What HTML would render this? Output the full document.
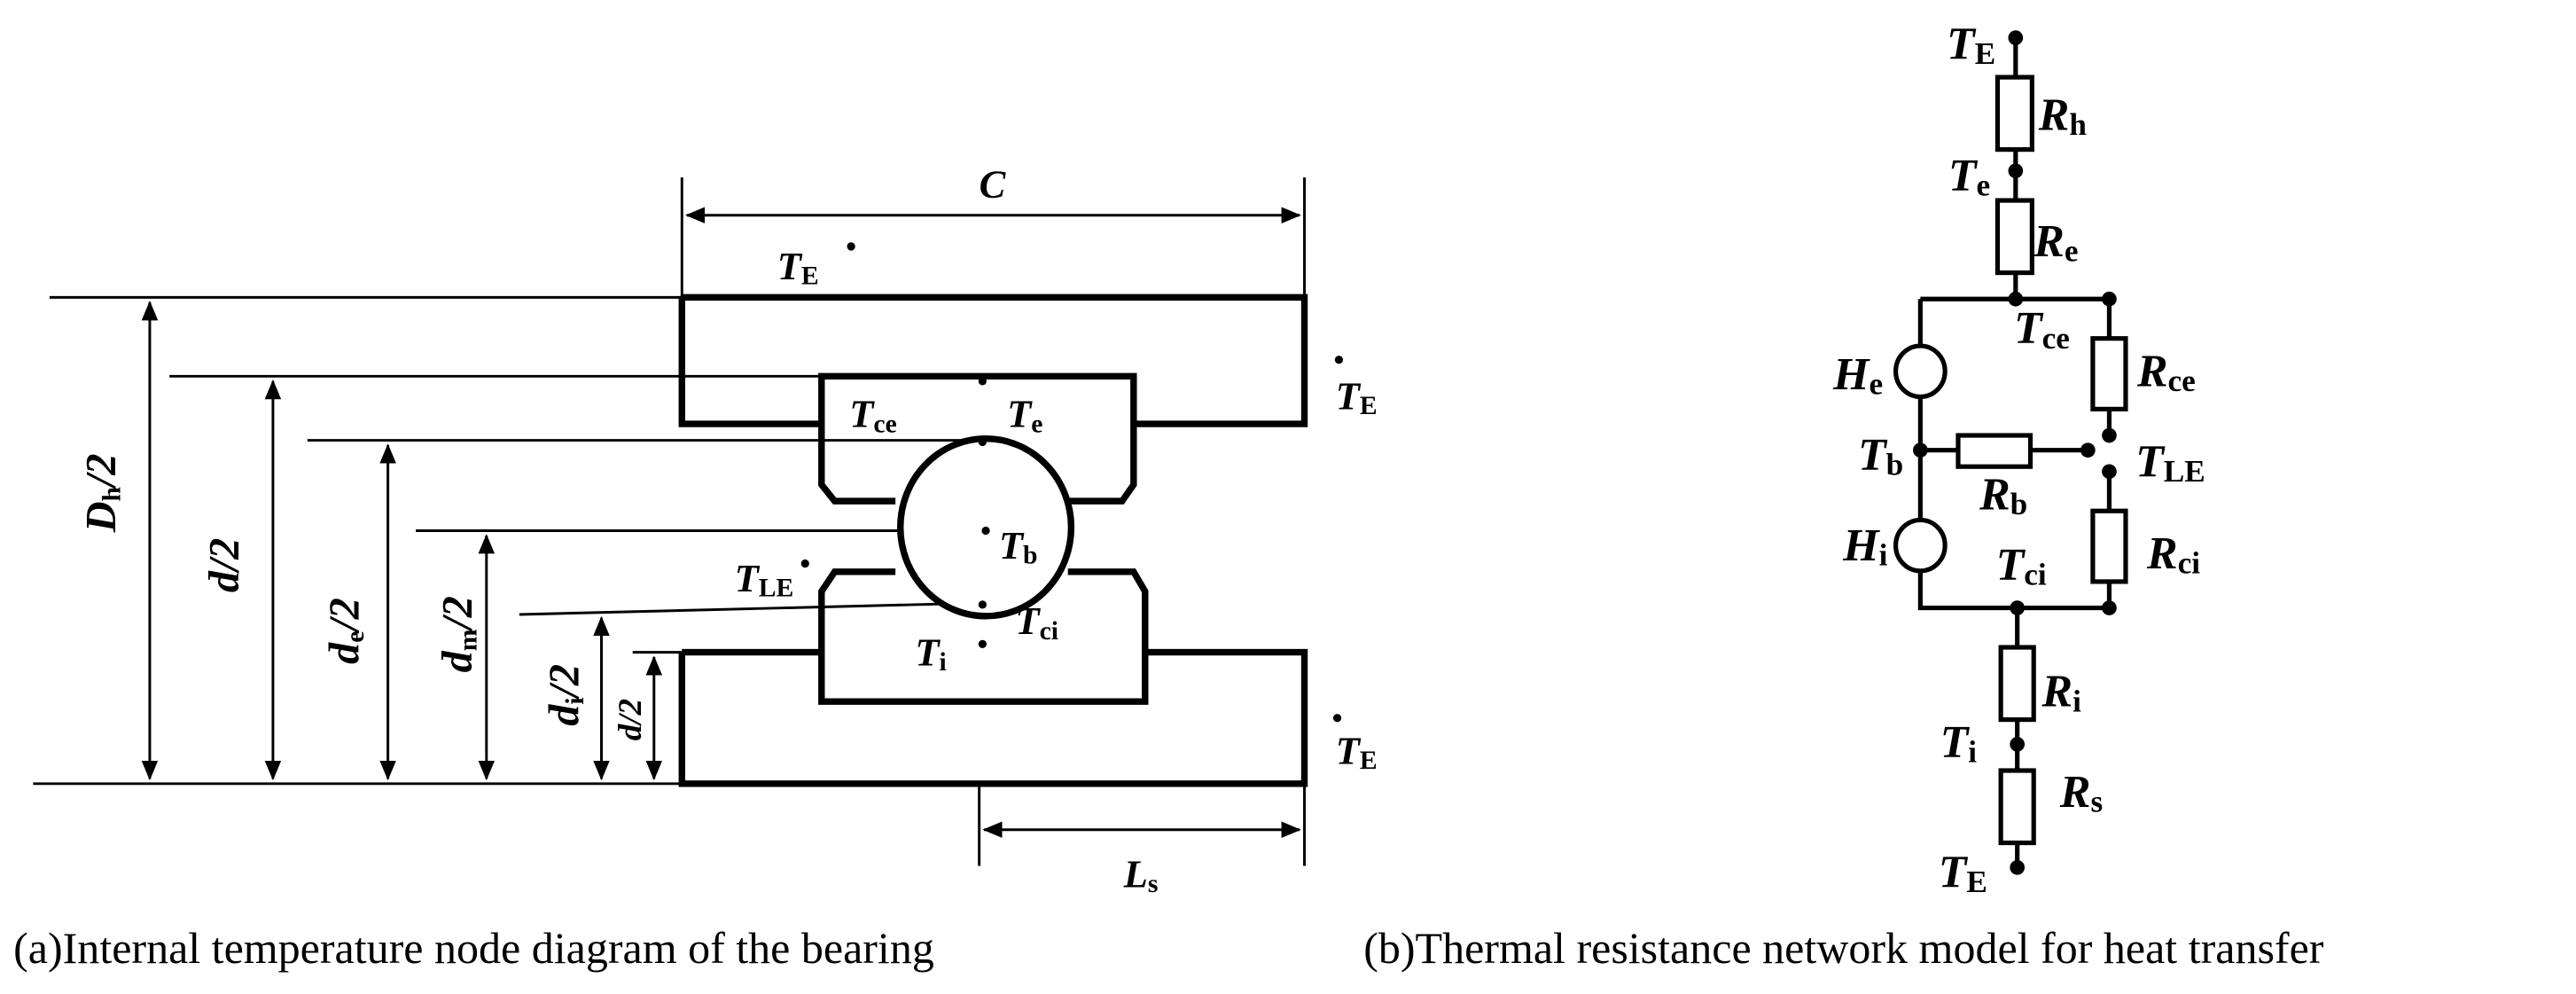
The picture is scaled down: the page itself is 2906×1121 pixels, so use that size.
<!DOCTYPE html>
<html><head><meta charset="utf-8"><style>
html,body{margin:0;padding:0;background:#fff}
svg{display:block}
text{font-family:"Liberation Serif",serif;fill:#000}
.l{font-weight:bold;font-style:italic;font-size:24px}
.r{font-weight:bold;font-style:italic;font-size:28px}
.s{font-weight:bold;font-style:normal;font-size:16px}
.rs{font-weight:bold;font-style:normal;font-size:19px}
.v{font-weight:bold;font-style:italic;font-size:26px;text-anchor:middle}
.cap{font-size:27px}
</style></head><body>
<svg width="2906" height="1121" viewBox="0 0 1568 605" xmlns="http://www.w3.org/2000/svg">
<defs>
<marker id="a" markerWidth="12" markerHeight="10" refX="11" refY="5" orient="auto-start-reverse" markerUnits="userSpaceOnUse"><path d="M0,0 L12,5 L0,10 z"/></marker>
</defs>
<g stroke="#000" fill="none">
<g stroke-width="1.6">
<line x1="415" y1="108" x2="415" y2="181"/><line x1="794" y1="108" x2="794" y2="181"/>
<line x1="30" y1="181" x2="415" y2="181"/>
<line x1="103" y1="229" x2="500" y2="229"/>
<line x1="187" y1="268" x2="598" y2="268"/>
<line x1="253" y1="323" x2="598" y2="323"/>
<line x1="316" y1="374" x2="598" y2="367"/>
<line x1="385" y1="397" x2="415" y2="397"/>
<line x1="20" y1="477" x2="415" y2="477"/>
<line x1="596" y1="477" x2="596" y2="527"/><line x1="794" y1="477" x2="794" y2="527"/>
<line x1="418" y1="131" x2="791" y2="131" marker-start="url(#a)" marker-end="url(#a)"/>
<line x1="599" y1="505" x2="791" y2="505" marker-start="url(#a)" marker-end="url(#a)"/>
<line x1="91" y1="184" x2="91" y2="474" marker-start="url(#a)" marker-end="url(#a)"/>
<line x1="166" y1="232" x2="166" y2="474" marker-start="url(#a)" marker-end="url(#a)"/>
<line x1="236" y1="271" x2="236" y2="474" marker-start="url(#a)" marker-end="url(#a)"/>
<line x1="296" y1="326" x2="296" y2="474" marker-start="url(#a)" marker-end="url(#a)"/>
<line x1="366" y1="376" x2="366" y2="474" marker-start="url(#a)" marker-end="url(#a)"/>
<line x1="398" y1="400" x2="398" y2="474" marker-start="url(#a)" marker-end="url(#a)"/>
</g>
<g stroke-width="4" stroke-linejoin="miter">
<path d="M415,181 H794 V258 H690"/>
<path d="M415,181 V258 H500"/>
<path d="M500,258 V229 H690 V295 L683,305 H650"/>
<path d="M500,258 V295 L508,305 H545"/>
<ellipse cx="600" cy="321" rx="52" ry="54" fill="#fff"/>
<path d="M545,348 H508 L500,360 V427 H697 V360 L690,348 H650"/>
<path d="M415,397 H500 M697,397 H794 V477 H415 V397"/>
</g>
<!-- circuit -->
<g stroke-width="2.8">
<line x1="1227" y1="23" x2="1227" y2="182"/>
<rect x="1216" y="47" width="21" height="44" fill="#fff"/>
<rect x="1216" y="122" width="21" height="44" fill="#fff"/>
<path d="M1169,182 H1284 V265"/>
<path d="M1284,287 V370 H1169 V182"/>
<path d="M1169,274 H1271"/>
<ellipse cx="1169" cy="226" rx="15" ry="15.5" fill="#fff"/>
<ellipse cx="1169" cy="332" rx="15" ry="15.5" fill="#fff"/>
<rect x="1192" y="265" width="44" height="19" fill="#fff"/>
<rect x="1274" y="206" width="20" height="43" fill="#fff"/>
<rect x="1274" y="311" width="20" height="43" fill="#fff"/>
<line x1="1228" y1="370" x2="1228" y2="528"/>
<rect x="1218" y="394" width="20" height="44" fill="#fff"/>
<rect x="1218" y="469" width="20" height="44" fill="#fff"/>
</g>
</g>
<g fill="#000">
<circle cx="518" cy="150" r="2.5"/><circle cx="815" cy="219" r="2.5"/><circle cx="598" cy="232" r="2.5"/>
<circle cx="600" cy="323" r="2.5"/><circle cx="490" cy="343" r="2.5"/><circle cx="598" cy="392" r="2.5"/>
<circle cx="814" cy="437" r="2.5"/><circle cx="598" cy="269" r="2.5"/><circle cx="598" cy="368" r="2.5"/>
<circle cx="1227" cy="23" r="4.5"/><circle cx="1227" cy="104" r="4.5"/><circle cx="1227" cy="182" r="4.5"/>
<circle cx="1284" cy="182" r="4.5"/><circle cx="1284" cy="265" r="4.5"/><circle cx="1284" cy="287" r="4.5"/>
<circle cx="1169" cy="274" r="4.5"/><circle cx="1271" cy="274" r="4.5"/>
<circle cx="1228" cy="370" r="4.5"/><circle cx="1284" cy="370" r="4.5"/>
<circle cx="1228" cy="453" r="4.5"/><circle cx="1228" cy="528" r="4.5"/>
</g>
<!-- left labels -->
<text class="l" x="596" y="120">C</text>
<text class="l" x="473" y="170">T<tspan class="s" dy="3">E</tspan></text>
<text class="l" x="813" y="249">T<tspan class="s" dy="3">E</tspan></text>
<text class="l" x="813" y="465">T<tspan class="s" dy="3">E</tspan></text>
<text class="l" x="517" y="260">T<tspan class="s" dy="3">ce</tspan></text>
<text class="l" x="613" y="260">T<tspan class="s" dy="3">e</tspan></text>
<text class="l" x="608" y="340">T<tspan class="s" dy="3">b</tspan></text>
<text class="l" x="447" y="360">T<tspan class="s" dy="3">LE</tspan></text>
<text class="l" x="618" y="386">T<tspan class="s" dy="3">ci</tspan></text>
<text class="l" x="557" y="405">T<tspan class="s" dy="3">i</tspan></text>
<text class="l" x="684" y="540">L<tspan class="s" dy="3">s</tspan></text>
<text class="v" transform="translate(70,300) rotate(-90)">D<tspan class="s" dy="3">h</tspan><tspan dy="-3">/2</tspan></text>
<text class="v" transform="translate(145,344) rotate(-90)">d/2</text>
<text class="v" transform="translate(218,384) rotate(-90)">d<tspan class="s" dy="3">e</tspan><tspan dy="-3">/2</tspan></text>
<text class="v" transform="translate(287,386) rotate(-90)">d<tspan class="s" dy="3">m</tspan><tspan dy="-3">/2</tspan></text>
<text class="v" transform="translate(352,423) rotate(-90)">d<tspan class="s" dy="3">i</tspan><tspan dy="-3">/2</tspan></text>
<text class="v" style="font-size:20px" transform="translate(390,438) rotate(-90)">d/2</text>
<!-- right labels -->
<text class="r" x="1185" y="36">T<tspan class="rs" dy="3">E</tspan></text>
<text class="r" x="1241" y="79">R<tspan class="rs" dy="3">h</tspan></text>
<text class="r" x="1186" y="116">T<tspan class="rs" dy="3">e</tspan></text>
<text class="r" x="1238" y="156">R<tspan class="rs" dy="3">e</tspan></text>
<text class="r" x="1226" y="209">T<tspan class="rs" dy="3">ce</tspan></text>
<text class="r" x="1301" y="235">R<tspan class="rs" dy="3">ce</tspan></text>
<text class="r" x="1116" y="237">H<tspan class="rs" dy="3">e</tspan></text>
<text class="r" x="1131" y="286">T<tspan class="rs" dy="3">b</tspan></text>
<text class="r" x="1300" y="290">T<tspan class="rs" dy="3">LE</tspan></text>
<text class="r" x="1205" y="310">R<tspan class="rs" dy="3">b</tspan></text>
<text class="r" x="1122" y="341">H<tspan class="rs" dy="3">i</tspan></text>
<text class="r" x="1215" y="353">T<tspan class="rs" dy="3">ci</tspan></text>
<text class="r" x="1307" y="346">R<tspan class="rs" dy="3">ci</tspan></text>
<text class="r" x="1243" y="430">R<tspan class="rs" dy="3">i</tspan></text>
<text class="r" x="1181" y="461">T<tspan class="rs" dy="3">i</tspan></text>
<text class="r" x="1254" y="491">R<tspan class="rs" dy="3">s</tspan></text>
<text class="r" x="1180" y="540">T<tspan class="rs" dy="3">E</tspan></text>
<text class="cap" x="8" y="586">(a)Internal temperature node diagram of the bearing</text>
<text class="cap" x="830" y="586">(b)Thermal resistance network model for heat transfer</text>
</svg>
</body></html>
